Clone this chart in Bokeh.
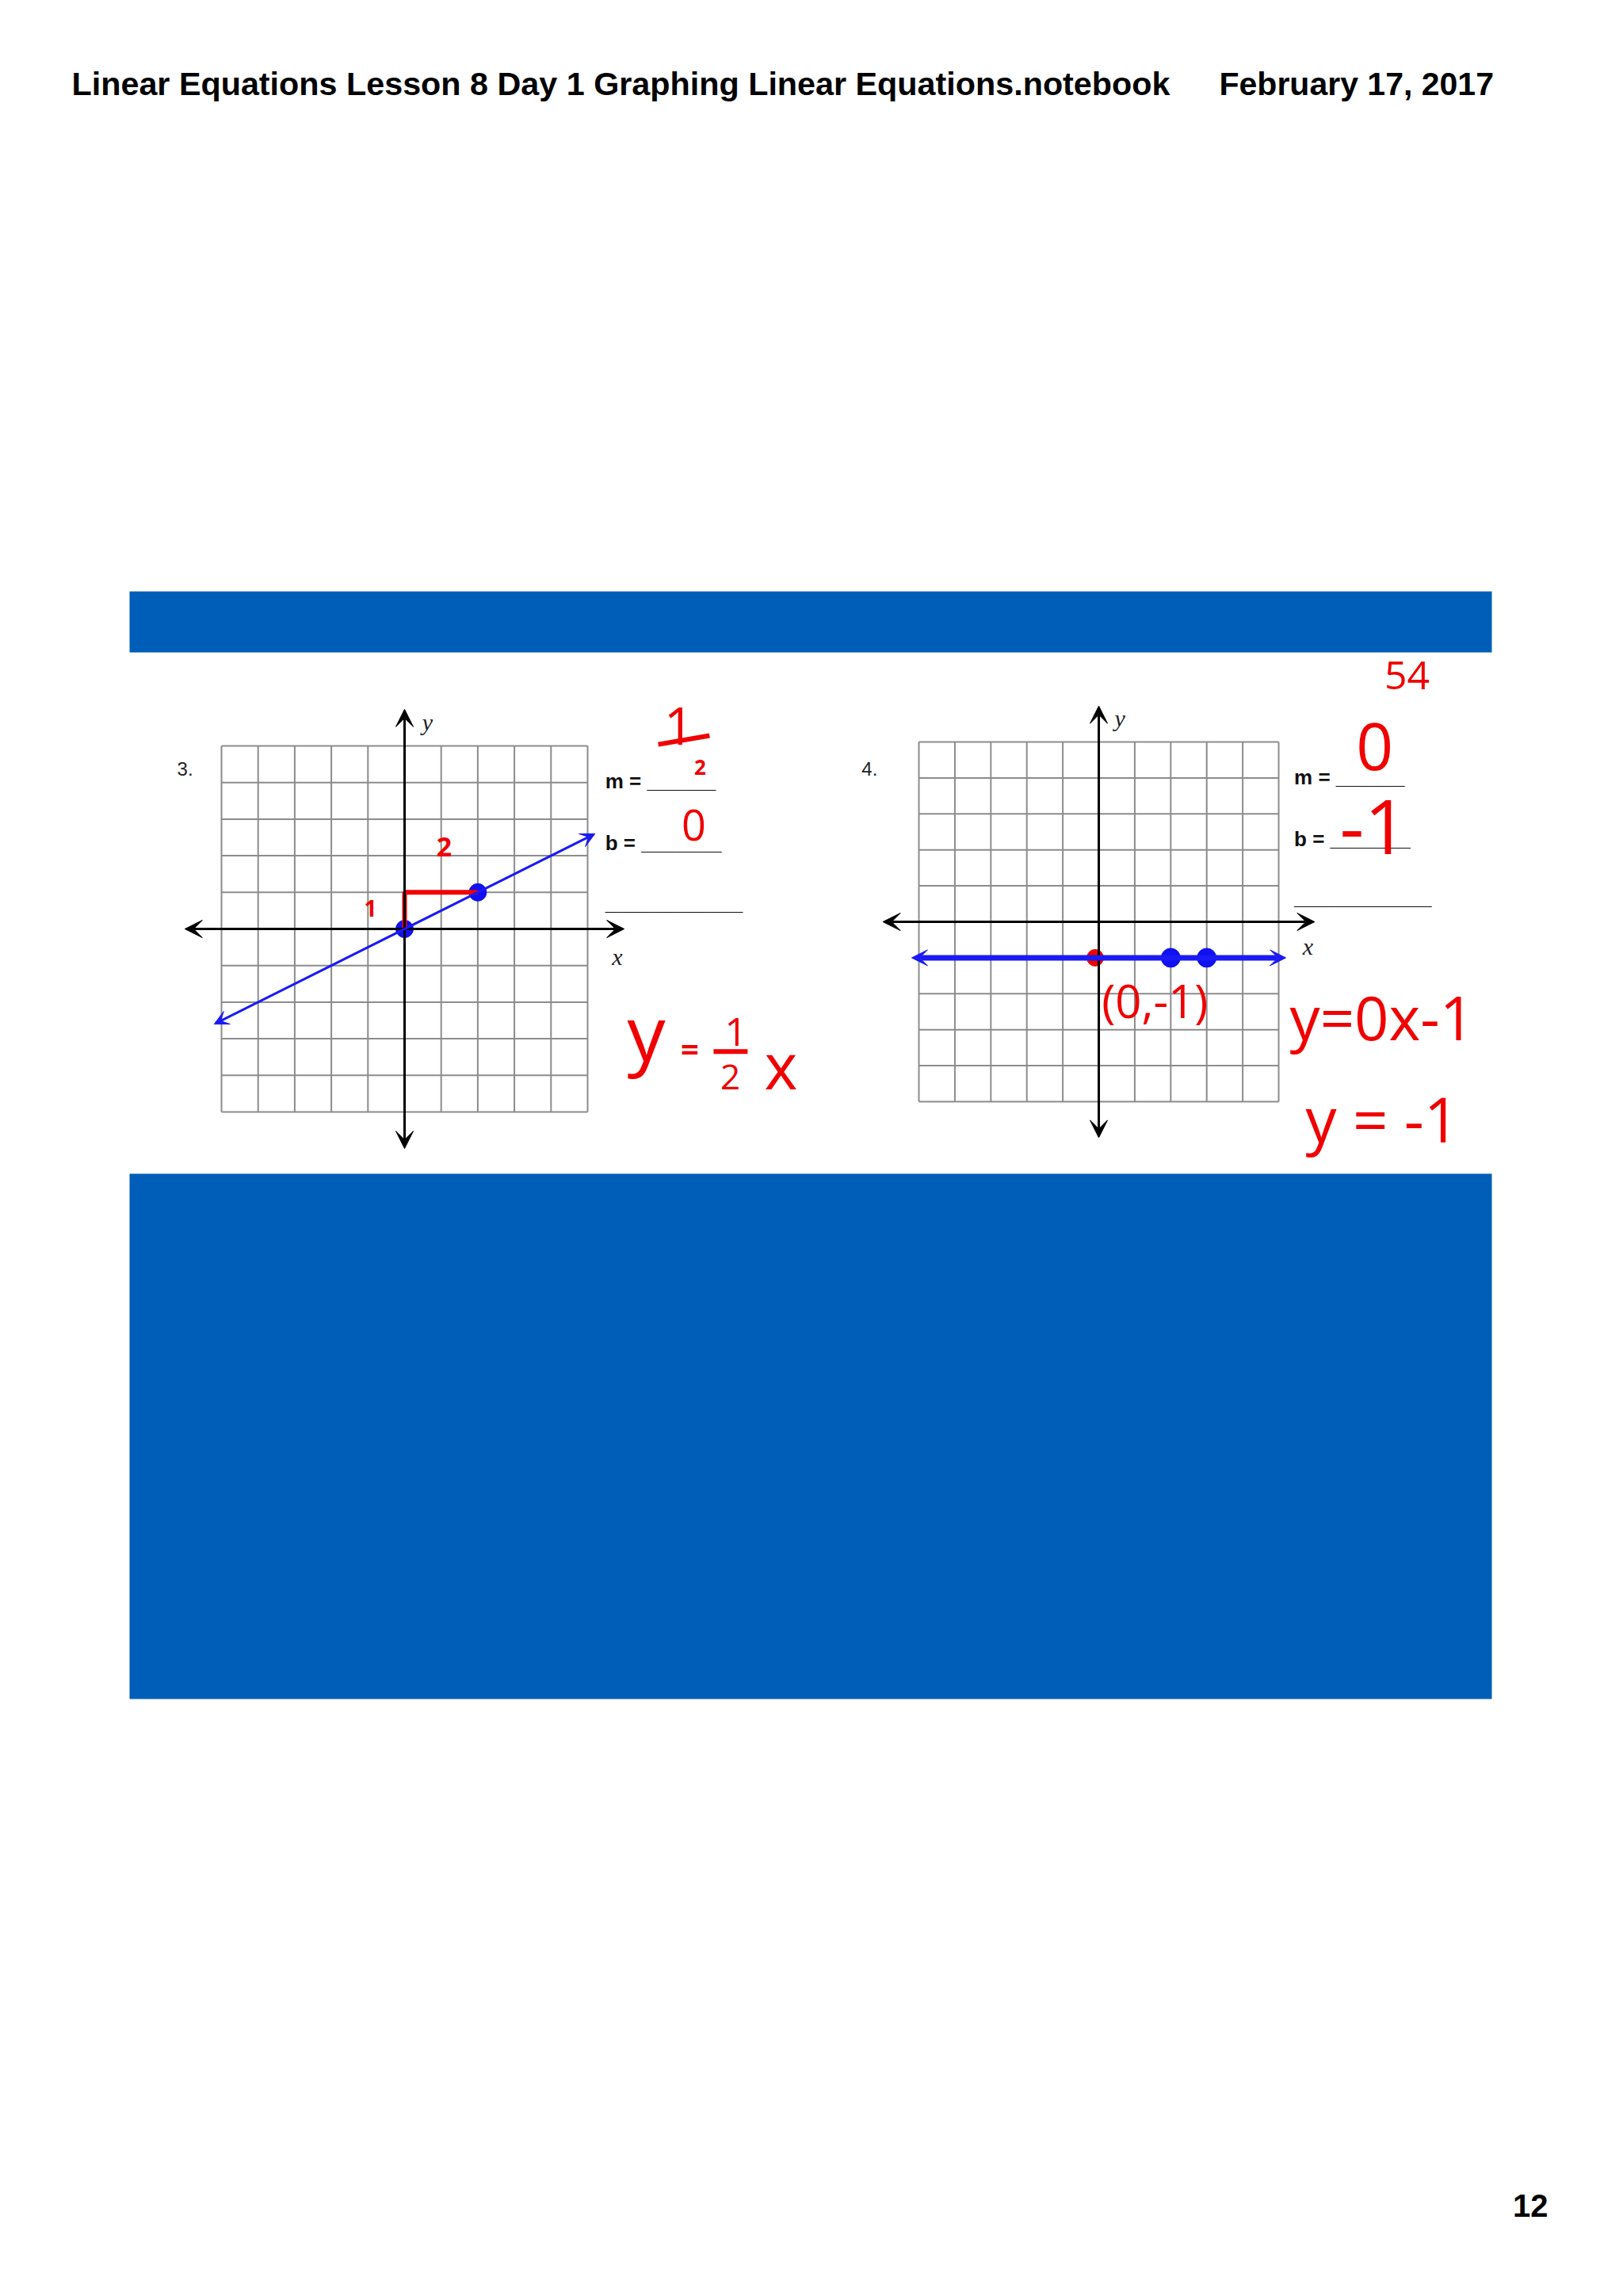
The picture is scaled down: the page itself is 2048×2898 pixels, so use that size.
from bokeh.plotting import figure
from bokeh.models import Range1d, Arrow, VeeHead
from bokeh.embed import file_html
from bokeh.resources import INLINE
from bokeh.core.properties import value

# ---------------- data ----------------
header_title = "Linear Equations Lesson 8 Day 1 Graphing Linear Equations.notebook"
header_date = "February 17, 2017"
page_number = "12"
problem_ids = ["3.", "4."]
slide_number = "54"
grid_ticks = [-5, -4, -3, -2, -1, 0, 1, 2, 3, 4, 5]
axis_extent = [-6, 6]
blank_labels = ["m = ______", "b = _______", "____________"]

# problem 3 : y = 1/2 x
line3_x = [-5.2, 5.2]
line3_y = [-2.6, 2.6]
pts3_x = [0, 2]
pts3_y = [0, 1]
rise3 = 1
run3 = 2

# problem 4 : y = -1
line4_x = [-5.2, 5.2]
line4_y = [-1, -1]
pts4_x = [2, 3]
pts4_y = [-1, -1]
intercept4_x = [-0.1]
intercept4_y = [-1]

# ---------------- styles ----------------
BAR_BLUE = "#005EB8"
LINE_BLUE = "#1A1AF5"
DOT_BLUE = "#1010F0"
PEN_RED = "#F00000"
GRID_GRAY = "#8C8C8C"
SANS = value("Liberation Sans")
SERIF = value("Liberation Serif")
PEN = value("Open Sans")

W, H = 2048, 2898

# one page-sized figure; page layout in pixel units, each graph on its own data ranges
p = figure(width=W, height=H, x_range=Range1d(0, W), y_range=Range1d(H, 0),
           toolbar_location=None, output_backend="svg", x_axis_type=None,
           y_axis_type=None, min_border=0, outline_line_color=None,
           background_fill_color="#FFFFFF", border_fill_color="#FFFFFF")
p.extra_x_ranges = {"g3x": Range1d(-11.039, 33.290), "g4x": Range1d(-30.529, 14.581)}
p.extra_y_ranges = {"g3y": Range1d(-37.359, 25.368), "g4y": Range1d(-38.216, 25.617)}

# ---------------- page frame ----------------
p.text(x=[90], y=[105], text=[header_title], text_font=SANS, text_font_style="bold",
       text_font_size="41.3px", text_color="#000000", text_baseline="middle")
p.text(x=[1538], y=[105], text=[header_date], text_font=SANS, text_font_style="bold",
       text_font_size="41px", text_color="#000000", text_baseline="middle")
p.quad(left=[163, 163], right=[1882, 1882], top=[746, 1481], bottom=[823, 2144],
       fill_color=BAR_BLUE, line_color=None)
p.text(x=[1953], y=[2783], text=[page_number], text_font=SANS, text_font_style="bold",
       text_font_size="40px", text_color="#000000", text_align="right",
       text_baseline="middle")


def draw_graph(xr, yr):
    kw = dict(x_range_name=xr, y_range_name=yr)
    lo, hi = grid_ticks[0], grid_ticks[-1]
    n = len(grid_ticks)
    p.segment(x0=grid_ticks, y0=[lo] * n, x1=grid_ticks, y1=[hi] * n,
              line_color=GRID_GRAY, line_width=2, **kw)
    p.segment(x0=[lo] * n, y0=grid_ticks, x1=[hi] * n, y1=grid_ticks,
              line_color=GRID_GRAY, line_width=2, **kw)
    for xs, ys in [((axis_extent[0], axis_extent[1]), (0, 0)),
                   ((0, 0), (axis_extent[0], axis_extent[1]))]:
        p.add_layout(Arrow(start=VeeHead(size=22, fill_color="black", line_color="black"),
                           end=VeeHead(size=22, fill_color="black", line_color="black"),
                           x_start=xs[0], y_start=ys[0], x_end=xs[1], y_end=ys[1],
                           line_color="black", line_width=3, **kw))


def add_labels(xr, yr, pid, id_pos, y_pos, x_pos, blank_x, blank_ys):
    kw = dict(x_range_name=xr, y_range_name=yr)
    p.text(x=[id_pos[0]], y=[id_pos[1]], text=[pid], text_font=SANS,
           text_font_size="24px", text_color="#222222", text_baseline="middle", **kw)
    p.text(x=[y_pos[0]], y=[y_pos[1]], text=["y"], text_font=SERIF,
           text_font_style="italic", text_font_size="30px", text_color="#222222",
           text_baseline="middle", **kw)
    p.text(x=[x_pos[0]], y=[x_pos[1]], text=["x"], text_font=SERIF,
           text_font_style="italic", text_font_size="30px", text_color="#222222",
           text_baseline="middle", text_align="center", **kw)
    p.text(x=[blank_x] * 3, y=blank_ys, text=blank_labels, text_font=SANS,
           text_font_style="bold", text_font_size="26px", text_color="#111111",
           text_baseline="middle", **kw)


def red_text(xr, yr, x, y, t, size, align="center", bold=False):
    p.text(x=[x], y=[y], text=[t], text_font=PEN, text_font_size=size,
           text_font_style="bold" if bold else "normal",
           text_color=PEN_RED, text_align=align, text_baseline="middle",
           x_range_name=xr, y_range_name=yr)


# ---------------- problem 3 ----------------
draw_graph("g3x", "g3y")
g3 = dict(x_range_name="g3x", y_range_name="g3y")
p.add_layout(Arrow(start=VeeHead(size=18, fill_color=LINE_BLUE, line_color=LINE_BLUE),
                   end=VeeHead(size=18, fill_color=LINE_BLUE, line_color=LINE_BLUE),
                   x_start=line3_x[0], y_start=line3_y[0], x_end=line3_x[1], y_end=line3_y[1],
                   line_color=LINE_BLUE, line_width=3, **g3))
p.scatter(pts3_x, pts3_y, size=22, color=DOT_BLUE, **g3)
p.line([pts3_x[0], pts3_x[0], pts3_x[0] + run3],
       [pts3_y[0], pts3_y[0] + rise3, pts3_y[0] + rise3],
       line_color=PEN_RED, line_width=6, **g3)
add_labels("g3x", "g3y", problem_ids[0], (-6.21, 4.37), (0.48, 5.65), (5.81, -0.76), 5.48,
           [4.03, 2.34, 0.71])
red_text("g3x", "g3y", 1.08, 2.23, str(run3), "34px", bold=True)
red_text("g3x", "g3y", -0.93, 0.56, str(rise3), "28px", bold=True)
# m = 1/2
red_text("g3x", "g3y", 7.49, 5.54, "1", "66px")
p.segment(x0=[6.93], y0=[5.04], x1=[8.33], y1=[5.28], line_color=PEN_RED, line_width=6, **g3)
red_text("g3x", "g3y", 8.07, 4.42, "2", "26px", bold=True)
# b = 0
red_text("g3x", "g3y", 7.90, 2.84, "0", "54px")
# y = 1/2 x
red_text("g3x", "g3y", 6.60, -2.79, "y", "96px")
red_text("g3x", "g3y", 7.79, -3.27, "=", "40px", bold=True)
red_text("g3x", "g3y", 9.05, -2.82, "1", "50px")
p.segment(x0=[8.44], y0=[-3.35], x1=[9.37], y1=[-3.35], line_color=PEN_RED, line_width=6, **g3)
red_text("g3x", "g3y", 8.90, -4.05, "2", "44px")
red_text("g3x", "g3y", 10.28, -3.70, "x", "80px")

# ---------------- problem 4 ----------------
draw_graph("g4x", "g4y")
g4 = dict(x_range_name="g4x", y_range_name="g4y")
p.add_layout(Arrow(start=VeeHead(size=20, fill_color=LINE_BLUE, line_color=LINE_BLUE),
                   end=VeeHead(size=20, fill_color=LINE_BLUE, line_color=LINE_BLUE),
                   x_start=line4_x[0], y_start=line4_y[0], x_end=line4_x[1], y_end=line4_y[1],
                   line_color=LINE_BLUE, line_width=7, **g4))
p.scatter(pts4_x, pts4_y, size=24, color=DOT_BLUE, **g4)
p.scatter(intercept4_x, intercept4_y, size=21, color=PEN_RED, **g4)
add_labels("g4x", "g4y", problem_ids[1], (-6.59, 4.25), (0.44, 5.66), (5.81, -0.68), 5.43,
           [4.03, 2.30, 0.68])
red_text("g4x", "g4y", 8.57, 6.85, slide_number, "50px")
red_text("g4x", "g4y", 7.67, 4.87, "0", "82px")
red_text("g4x", "g4y", 7.64, 2.64, "-1", "96px")
red_text("g4x", "g4y", 1.56, -2.18, "(0,-1)", "58px")
red_text("g4x", "g4y", 5.31, -2.64, "y=0x-1", "76px", align="left")
red_text("g4x", "g4y", 5.75, -5.48, "y = -1", "78px", align="left")

open("out.html", "w").write(file_html(p, INLINE))
